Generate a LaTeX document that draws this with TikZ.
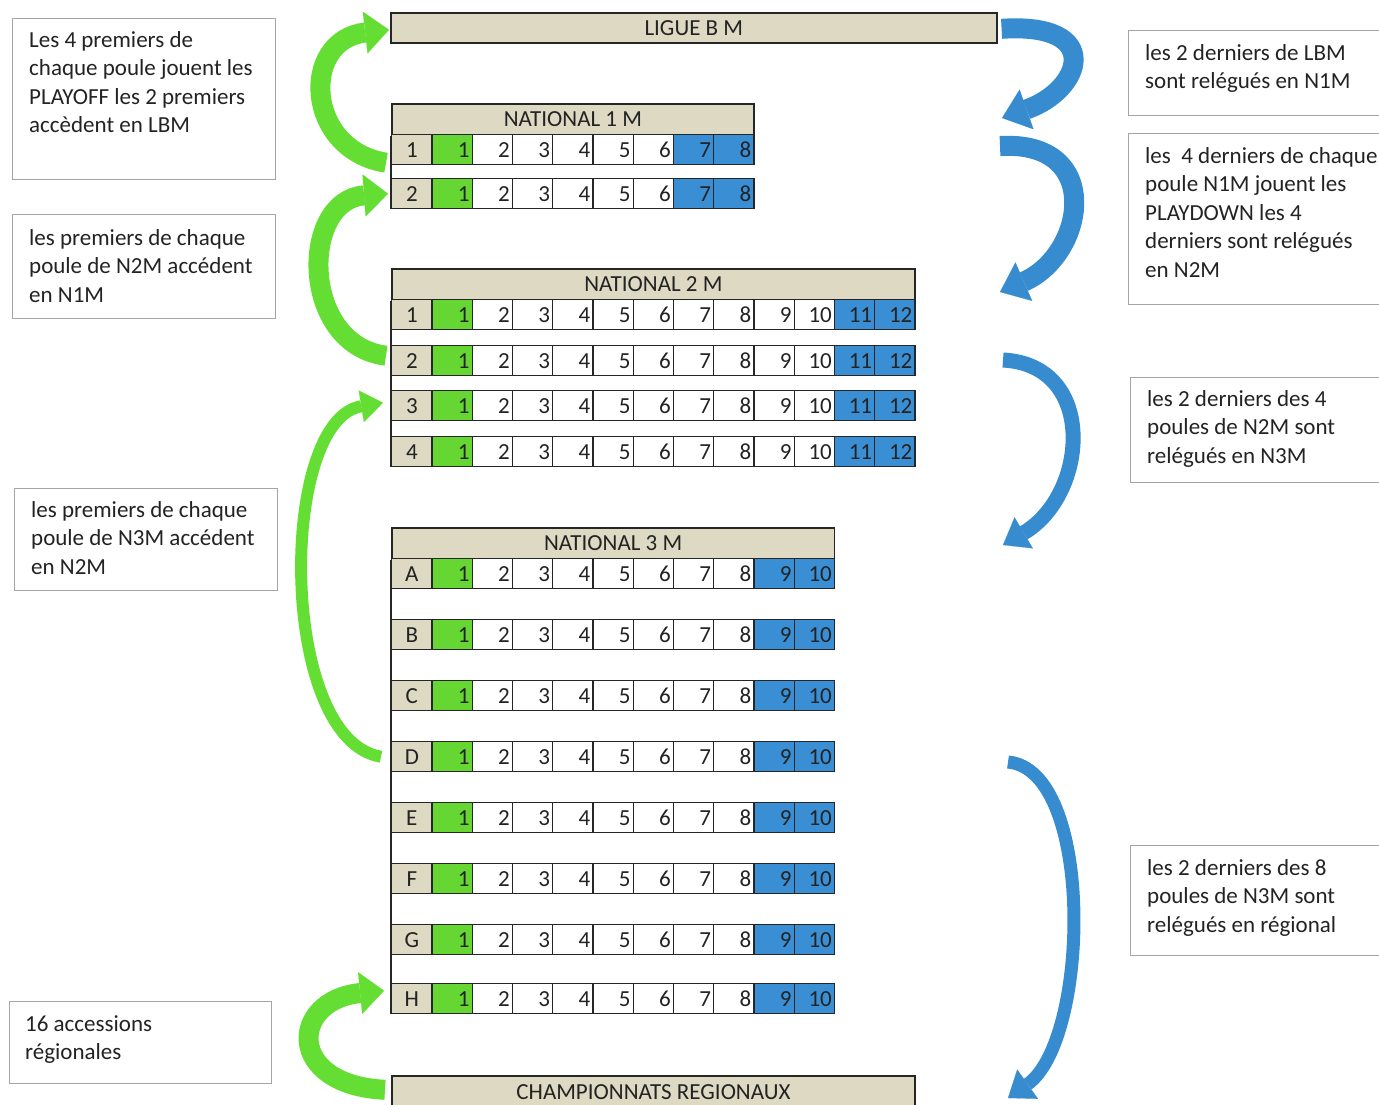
\documentclass[tikz,border=0pt]{standalone}
\usepackage{fontspec}
\setmainfont{Carlito}
\usetikzlibrary{arrows.meta,calc}
\definecolor{beige}{RGB}{221,217,195}
\definecolor{cgreen}{RGB}{102,214,50}
\definecolor{cblue}{RGB}{58,142,212}
\definecolor{agreen}{RGB}{100,222,50}
\definecolor{ablue}{RGB}{55,140,208}
\definecolor{txt}{RGB}{35,35,35}
\definecolor{boxline}{RGB}{165,165,165}
\newcommand\poolrow[4]{%
  \node[labcell] (#1-0) at (391,#2) {#3};
  \foreach \k in {1,...,#4} {%
    \pgfmathtruncatemacro\lastk{#4-2}%
    \ifnum\k=1 \def\cf{cgreen}\else\ifnum\k>\lastk\relax \def\cf{cblue}\else\def\cf{white}\fi\fi
    \node[numcell, fill=\cf] (#1-\k) at ({391+40.25*\k},#2) {\k};
  }%
}
\begin{document}
\begin{tikzpicture}[x=1pt,y=-1pt,
  font=\fontsize{23}{28.5}\selectfont, text=txt,
  cell/.style={draw=black!85, line width=1.4pt, minimum width=40.25pt, minimum height=30pt, inner sep=0pt, anchor=north west},
  numcell/.style={cell, text width=35pt, align=right},
  labcell/.style={cell, fill=beige},
  hdr/.style={draw=black!85, line width=1.6pt, fill=beige, minimum height=31pt, inner sep=0pt, anchor=north west},
  tline/.style={draw=black!85, line width=1.4pt},
  note/.style={draw=boxline, line width=1.2pt, fill=white, anchor=north west, inner sep=0pt},
  notetext/.style={anchor=north west, align=left, inner sep=0pt},
  garrow/.style={draw=agreen, line width=#1},
  barrow/.style={draw=ablue, line width=#1},
  gtip/.style={-{Triangle[width=42pt,length=24pt,line width=0.1pt]}},
  gtips/.style={-{Triangle[width=32pt,length=22pt,line width=0.1pt]}},
  btip/.style={-{Triangle[width=42pt,length=26pt,line width=0.1pt]}},
  btips/.style={-{Triangle[width=36pt,length=24pt,line width=0.1pt]}}
]
\useasboundingbox (0,0) rectangle (1379,1104);
\fill[white] (0,0) rectangle (1379,1104);
\clip (0,0) rectangle (1379,1104);

% headers
\node[hdr, minimum width=606pt, minimum height=30pt] (lbm) at (390,12) {LIGUE B M};
\node[hdr, minimum width=362.25pt] (n1h) at (391,103) {NATIONAL 1 M};
\node[hdr, minimum width=523.25pt] (n2h) at (391,268) {NATIONAL 2 M};
\node[hdr, minimum width=442.75pt, minimum height=31pt] (n3h) at (391,527) {NATIONAL 3 M};
\node[hdr, minimum width=523.25pt, minimum height=32pt] (reg) at (391,1075) {CHAMPIONNATS REGIONAUX};

% N1M
\poolrow{n1a}{134}{1}{8}
\poolrow{n1b}{178}{2}{8}
\draw[tline] (n1h.south west) -- (n1b-0.south west);
% N2M
\poolrow{n2a}{299}{1}{12}
\poolrow{n2b}{345}{2}{12}
\poolrow{n2c}{390}{3}{12}
\poolrow{n2d}{436}{4}{12}
\draw[tline] (n2h.south west) -- (n2d-0.south west);
% N3M
\poolrow{n3a}{558}{A}{10}
\poolrow{n3b}{619}{B}{10}
\poolrow{n3c}{680}{C}{10}
\poolrow{n3d}{741}{D}{10}
\poolrow{n3e}{802}{E}{10}
\poolrow{n3f}{863}{F}{10}
\poolrow{n3g}{924}{G}{10}
\poolrow{n3hh}{983}{H}{10}
\draw[tline] (n3h.south west) -- (n3hh-0.south west);

% notes left
\node[note, minimum width=263pt, minimum height=161pt] (t1) at (12,18) {};
\node[notetext] (t1t) at (29,31) {Les 4 premiers de\\chaque poule jouent les\\PLAYOFF les 2 premiers\\accèdent en LBM};
\node[note, minimum width=263pt, minimum height=104pt] (t2) at (12,214) {};
\node[notetext] (t2t) at (29,229) {les premiers de chaque\\poule de N2M accédent\\en N1M};
\node[note, minimum width=263pt, minimum height=102pt] (t3) at (14,488) {};
\node[notetext] (t3t) at (31,501) {les premiers de chaque\\poule de N3M accédent\\en N2M};
\node[note, minimum width=262pt, minimum height=82pt] (t4) at (9,1001) {};
\node[notetext] (t4t) at (25,1015) {16 accessions\\régionales};
% notes right
\node[note, minimum width=270pt, minimum height=85pt] (t5) at (1128,30) {};
\node[notetext] (t5t) at (1145,44) {les 2 derniers de LBM\\sont relégués en N1M};
\node[note, minimum width=270pt, minimum height=171pt] (t6) at (1128,133) {};
\node[notetext] (t6t) at (1145,147) {les\ \ 4 derniers de chaque\\poule N1M jouent les\\PLAYDOWN les 4\\derniers sont relégués\\en N2M};
\node[note, minimum width=270pt, minimum height=105pt] (t7) at (1130,377) {};
\node[notetext] (t7t) at (1147,390) {les 2 derniers des 4\\poules de N2M sont\\relégués en N3M};
\node[note, minimum width=270pt, minimum height=110pt] (t8) at (1130,845) {};
\node[notetext] (t8t) at (1147,859) {les 2 derniers des 8\\poules de N3M sont\\relégués en régional};

% green arrows (promotions)
\draw[garrow=20pt, gtip] ([shift={(-5,13)}]n1a-0.west) .. controls (305,150) and (300,40) .. ([shift={(-1,2)}]lbm.west);
\draw[garrow=20pt, gtip] ([shift={(-5,-5)}]n2b-0.west) .. controls (300,345) and (300,200) .. ([shift={(-3,0)}]n1b-0.west);
\draw[garrow=12pt, gtips] ([shift={(-10,0)}]n3d-0.west) .. controls (278,740) and (278,420) .. ([shift={(-8,-3)}]n2c-0.west);
\draw[garrow=20pt, gtip] ([shift={(-6,-2)}]reg.west) .. controls (285,1085) and (290,1000) .. ([shift={(-7,-8)}]n3hh-0.west);

% blue arrows (relegations)
\coordinate (b1e) at (1002,118);
\coordinate (b2s) at (1000,146);
\coordinate (b2e) at (1000,292);
\coordinate (b3s) at (1003,360);
\coordinate (b3e) at (1003,545);
\coordinate (b4s) at (1008,762);
\coordinate (b4e) at (1008,1098);
\draw[barrow=20pt, btip] ([shift={(4,1)}]lbm.east) .. controls (1105,22) and (1082,90) .. (b1e);
\draw[barrow=20pt, btip] (b2s) .. controls (1105,140) and (1085,255) .. (b2e);
\draw[barrow=15pt, btips] (b3s) .. controls (1098,365) and (1088,495) .. (b3e);
\draw[barrow=13pt, btips] (b4s) .. controls (1095,770) and (1090,1040) .. (b4e);
\end{tikzpicture}
\end{document}
